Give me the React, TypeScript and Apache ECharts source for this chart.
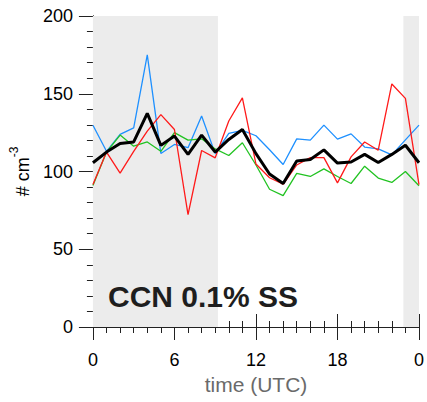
import React, { useEffect, useRef } from "react";
import * as echarts from "echarts";

const hours = [0, 1, 2, 3, 4, 5, 6, 7, 8, 9, 10, 11, 12, 13, 14, 15, 16, 17, 18, 19, 20, 21, 22, 23, 24];
const blueVals = [129.7, 113, 123.9, 128, 175, 111.6, 117.4, 115.3, 135.7, 111.5, 124.5, 126.5, 123, 114, 104.5, 121, 120.2, 129.8, 120.8, 124.2, 115.7, 114.5, 110.7, 120.3, 129.8];
const redVals = [91.6, 112.5, 99, 113, 126, 136.6, 127, 72.3, 113.5, 108.8, 132.5, 147.3, 104.8, 96, 91.8, 104.2, 108.9, 108.9, 92.7, 109.4, 119, 113.7, 156.3, 147, 91.5];
const greenVals = [91, 112.5, 123.4, 116.3, 119, 113, 125, 120.2, 121, 114.5, 110.3, 118.5, 104.2, 88.6, 84.5, 98.8, 96.8, 101.7, 96.8, 92.3, 103.4, 95.8, 93, 100, 90.8];
const blackVals = [105.6, 112.5, 118, 119, 137.4, 116.8, 122.8, 111, 123.4, 112.5, 120.6, 127, 111.5, 98.4, 92.3, 106.8, 107.7, 113.9, 105.4, 106.1, 111, 105.8, 111, 116.9, 105.6];
const shadeRanges = [[0, 9.2], [22.85, 24]];
const xTicks = [0, 6, 12, 18, 24];
const xTickLabels = ["0", "6", "12", "18", "0"];
const titleText = "CCN 0.1% SS";

const FONT = "'Liberation Sans', Arial, Helvetica, sans-serif";

export default function App() {
  const ref = useRef<HTMLDivElement>(null);
  useEffect(() => {
    if (!ref.current) return;
    const chart = echarts.init(ref.current, null, { renderer: "svg" });
    const pair = (arr: number[]) => hours.map((h, i) => [h, arr[i]]);
    const axisLine = { show: true, lineStyle: { color: "#222", width: 1 } };
    const xCommon = {
      type: "value" as const,
      min: 0,
      max: 24,
      interval: 6,
      splitLine: { show: false },
      axisLine,
      axisTick: { show: true, inside: false, length: 13, lineStyle: { color: "#222" } },
      minorTick: { show: true, splitNumber: 6, length: 6, lineStyle: { color: "#222" } },
      minorSplitLine: { show: false },
    };
    const yCommon = {
      type: "value" as const,
      min: 0,
      max: 200,
      interval: 50,
      splitLine: { show: false },
      axisLine,
      axisTick: { show: true, inside: false, length: 14, lineStyle: { color: "#222" } },
      minorTick: { show: true, splitNumber: 5, length: 6, lineStyle: { color: "#222" } },
      minorSplitLine: { show: false },
    };
    const thin = (name: string, data: number[], color: string, z: number) => ({
      name,
      type: "line" as const,
      data: pair(data),
      showSymbol: false,
      symbol: "none",
      lineStyle: { color, width: 1.3 },
      z,
    });
    chart.setOption({
      animation: false,
      backgroundColor: "#fff",
      grid: { left: 91, top: 16, width: 330, height: 311, containLabel: false },
      xAxis: [
        {
          ...xCommon,
          position: "bottom",
          axisLabel: {
            show: true,
            margin: 24,
            fontSize: 18,
            color: "#000",
            fontFamily: FONT,
            formatter: (v: number) => {
              const idx = xTicks.indexOf(v);
              return idx >= 0 ? xTickLabels[idx] : "";
            },
          },
          name: "time (UTC)",
          nameLocation: "middle",
          nameGap: 44,
          nameTextStyle: { fontSize: 21, color: "#6a6a6a", fontFamily: FONT },
        },
        { ...xCommon, position: "top", axisLabel: { show: false } },
      ],
      yAxis: [
        {
          ...yCommon,
          position: "left",
          axisLabel: { show: true, margin: 20, fontSize: 18, color: "#000", fontFamily: FONT },
          name: "{a|# cm}{b|-3}",
          nameLocation: "middle",
          nameRotate: 90,
          nameGap: 60,
          nameTextStyle: {
            rich: {
              a: { fontSize: 18, color: "#000", fontFamily: FONT, lineHeight: 24, verticalAlign: "bottom" },
              b: { fontSize: 12, color: "#000", fontFamily: FONT, lineHeight: 24, verticalAlign: "top" },
            },
          },
        },
        { ...yCommon, position: "right", axisLabel: { show: false } },
      ],
      series: [
        {
          name: "shade",
          type: "line",
          data: [],
          z: 0,
          silent: true,
          markArea: {
            silent: true,
            itemStyle: { color: "#ececec" },
            data: shadeRanges.map((r) => [{ xAxis: r[0] }, { xAxis: r[1] }]),
          },
        },
        thin("blue", blueVals, "#1e90ff", 2),
        thin("green", greenVals, "#22c322", 3),
        thin("red", redVals, "#ff1a1a", 4),
        {
          name: "black",
          type: "line",
          data: pair(blackVals),
          showSymbol: false,
          symbol: "none",
          lineStyle: { color: "#000", width: 3 },
          z: 5,
        },
      ],
      graphic: [
        {
          type: "text",
          left: 108,
          top: 281,
          z: 10,
          style: {
            text: titleText,
            fontSize: 30,
            fontWeight: "bold",
            fontFamily: FONT,
            fill: "#1e1e1e",
          },
        },
      ],
    });
    return () => chart.dispose();
  }, []);
  return <div ref={ref} style={{ position: "fixed", left: 0, top: 0, width: 427, height: 402 }} />;
}
